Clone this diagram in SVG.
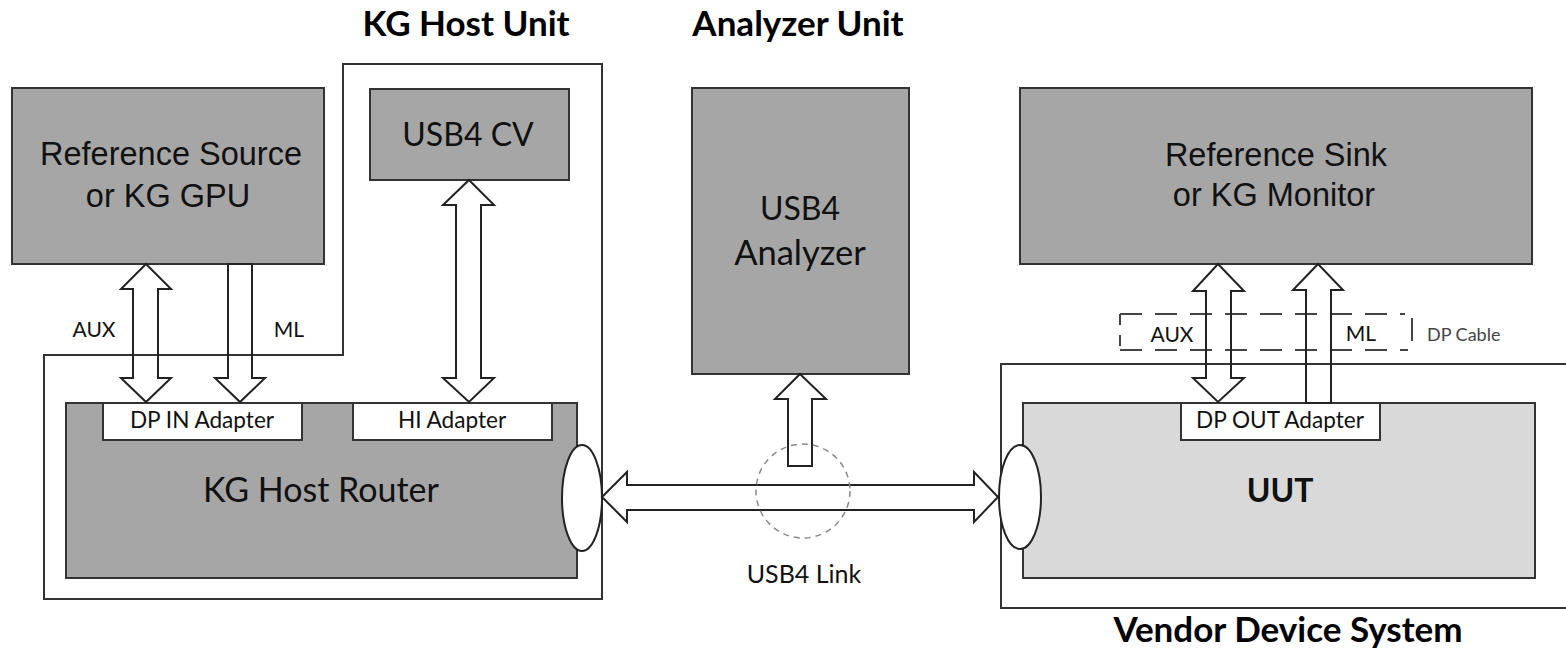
<svg xmlns="http://www.w3.org/2000/svg" width="1566" height="648" viewBox="0 0 1566 648">
<style>
.box{fill:#a6a6a6;stroke:#333;stroke-width:2}
.lbox{fill:#d9d9d9;stroke:#333;stroke-width:2}
.wbox{fill:#fff;stroke:#333;stroke-width:2}
.outline{fill:none;stroke:#333;stroke-width:2}
.arrow{fill:none;stroke:#222;stroke-width:2;stroke-linejoin:miter}
.ar{font-family:"Liberation Sans",Arial,sans-serif;font-size:32.5px;fill:#111;text-anchor:middle}
.cal{font-family:Lato,"Open Sans",sans-serif;fill:#111;text-anchor:middle}
.big{font-size:32px}
.small{font-size:21px}
.adp{font-size:22.6px}
.head{font-family:Lato,"Open Sans",sans-serif;font-weight:bold;font-size:35px;fill:#000;text-anchor:middle}
</style>
<rect width="1566" height="648" fill="#fff"/>

<g id="kg-host-unit">
<path class="outline" d="M343,64 H602 V599 H44 V355 H343 Z"/>
<text class="head" x="466" y="36" font-size="34.5">KG Host Unit</text>
</g>

<g id="analyzer-unit-label">
<text class="head" x="798" y="36" font-size="37">Analyzer Unit</text>
</g>

<g id="vendor-device-system">
<path class="outline" d="M1570,364 H1001 V608 H1570"/>
<text class="head" x="1288" y="642" font-size="37.5">Vendor Device System</text>
</g>

<g id="reference-source">
<rect class="box" x="12" y="88" width="312" height="176"/>
<text class="ar" x="171" y="165">Reference Source</text>
<text class="ar" x="168" y="207">or KG GPU</text>
</g>

<g id="usb4-cv">
<rect class="box" x="370" y="89" width="199" height="91"/>
<text class="cal big" x="468" y="146">USB4 CV</text>
</g>

<g id="kg-host-router">
<rect class="box" x="66" y="403" width="511" height="175"/>
<text class="cal" x="321" y="502" font-size="34">KG Host Router</text>
</g>

<g id="dp-in-adapter">
<rect class="wbox" x="103" y="403" width="199" height="37"/>
<text class="cal adp" x="202" y="428">DP IN Adapter</text>
</g>

<g id="hi-adapter">
<rect class="wbox" x="353" y="403" width="199" height="37"/>
<text class="cal adp" x="452" y="428">HI Adapter</text>
</g>

<g id="host-port">
<ellipse fill="#fff" stroke="#222" stroke-width="2" cx="582" cy="498" rx="20" ry="53"/>
</g>

<g id="usb4-analyzer">
<rect class="box" x="692" y="88" width="217" height="286"/>
<text class="cal big" x="800" y="220">USB4</text>
<text class="cal" x="800" y="265" font-size="34.5">Analyzer</text>
</g>

<g id="reference-sink">
<rect class="box" x="1020" y="88" width="512" height="176"/>
<text class="ar" x="1276" y="166">Reference Sink</text>
<text class="ar" x="1274" y="206">or KG Monitor</text>
</g>

<g id="uut">
<rect class="lbox" x="1023" y="403" width="512" height="175"/>
<text class="cal" x="1280" y="502" font-size="32" font-weight="bold" fill="#000">UUT</text>
</g>

<g id="dp-out-adapter">
<rect class="wbox" x="1181" y="403" width="199" height="37"/>
<text class="cal adp" x="1280" y="428">DP OUT Adapter</text>
</g>

<g id="uut-port">
<ellipse fill="#fff" stroke="#222" stroke-width="2" cx="1020" cy="497" rx="21" ry="52"/>
</g>

<g id="dp-cable">
<g fill="none" stroke="#444" stroke-width="2" stroke-dasharray="22 13">
<line x1="1120" y1="314" x2="1405" y2="314"/>
<line x1="1120" y1="350" x2="1408" y2="350"/>
<line x1="1120" y1="314" x2="1120" y2="350" stroke-dasharray="11 10"/>
</g>
<line x1="1412" y1="318" x2="1412" y2="341" stroke="#444" stroke-width="2"/>
<text x="1427" y="341" font-family="Lato,'Open Sans',sans-serif" font-size="18" fill="#444">DP Cable</text>
</g>

<g id="connectors">
<polygon class="arrow" points="146,264 171,289 158,289 158,378 171,378 146,402 121,378 133,378 133,289 121,289"/>
<polygon class="arrow" points="228,264 252,264 252,378 265,378 240,402 215,378 228,378"/>
<polygon class="arrow" points="469,180 494,205 481,205 481,378 494,378 469,402 443,378 456,378 456,205 443,205"/>
<polygon class="arrow" points="800,374 826,399 812,399 812,466 788,466 788,399 775,399"/>
<polygon class="arrow" points="602,497 627,472 627,485 974,485 974,472 998,497 974,522 974,510 627,510 627,522"/>
<polygon class="arrow" points="1218,264 1244,291 1231,291 1231,378 1244,378 1218,402 1193,378 1206,378 1206,291 1193,291"/>
<polygon class="arrow" points="1318,264 1343,290 1331,290 1331,403 1306,403 1306,290 1293,290"/>
<circle cx="803" cy="491" r="47" fill="none" stroke="#888" stroke-width="1.5" stroke-dasharray="6 5"/>
<text class="cal small" x="94" y="337">AUX</text>
<text class="cal small" x="289" y="337">ML</text>
<text class="cal small" x="1172" y="342">AUX</text>
<text class="cal small" x="1361" y="341">ML</text>
<text class="cal" x="804" y="583" font-size="25">USB4 Link</text>
</g>
</svg>
